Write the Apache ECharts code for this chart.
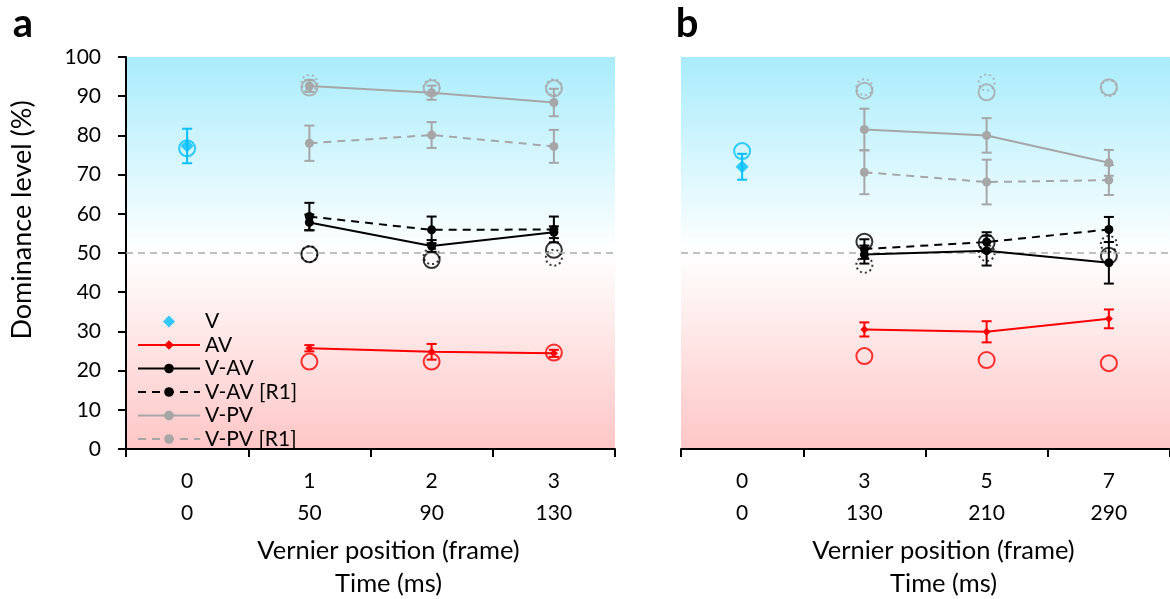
<!DOCTYPE html>
<html><head><meta charset="utf-8">
<script src="https://cdn.jsdelivr.net/npm/echarts@6/dist/echarts.min.js"></script>
<style>html,body{margin:0;padding:0;background:#fff}#c{width:1170px;height:599px}</style>
</head><body><div id="c"></div><script>
// ---------- categories / tick labels ----------
const framesA = ['0','1','2','3'];
const timesA  = ['0','50','90','130'];
const framesB = ['0','3','5','7'];
const timesB  = ['0','130','210','290'];

// ---------- panel a ----------
const vA          = [77.3,'-','-','-'];
const vErrA       = [4.4,0,0,0];
const vPredA      = [76.7,'-','-','-'];
const avA         = ['-',25.7,24.8,24.4];
const avErrA      = [0,0.8,2.0,0.9];
const avPredA     = ['-',22.3,22.3,24.6];
const vavA        = ['-',57.8,51.8,55.3];
const vavErrA     = [0,2.0,1.5,1.5];
const vavR1A      = ['-',59.3,55.9,56.0];
const vavR1ErrA   = [0,3.5,3.4,3.3];
const vavPredA    = ['-',49.7,48.2,50.8];
const vavPredR1A  = ['-',49.7,49.2,48.8];
const vpvA        = ['-',92.6,90.9,88.4];
const vpvErrA     = [0,1.5,1.8,3.5];
const vpvR1A      = ['-',78.0,80.1,77.2];
const vpvR1ErrA   = [0,4.5,3.3,4.2];
const vpvPredA    = ['-',92.2,92.0,92.0];
const vpvPredR1A  = ['-',93.4,92.3,92.3];

// ---------- panel b ----------
const vB          = [72.0,'-','-','-'];
const vErrB       = [3.3,0,0,0];
const vPredB      = [76.0,'-','-','-'];
const avB         = ['-',30.5,29.9,33.2];
const avErrB      = [0,1.8,2.7,2.4];
const avPredB     = ['-',23.7,22.7,21.9];
const vavB        = ['-',49.6,50.6,47.5];
const vavErrB     = [0,2.3,3.8,5.3];
const vavR1B      = ['-',51.0,52.8,56.0];
const vavR1ErrB   = [0,2.5,2.5,3.2];
const vavPredB    = ['-',52.9,52.6,49.3];
const vavPredR1B  = ['-',47.0,50.0,52.3];
const vpvB        = ['-',81.5,80.0,73.0];
const vpvErrB     = [0,5.3,4.4,3.3];
const vpvR1B      = ['-',70.6,68.1,68.6];
const vpvR1ErrB   = [0,5.6,5.7,3.8];
const vpvPredB    = ['-',91.4,91.0,92.3];
const vpvPredR1B  = ['-',92.3,93.5,92.0];

const FONT = 'Lato';
const COL = {V:'#00bfff', AV:'#ff0000', VAV:'#000000', VPV:'#a6a6a6'};

function pairs(vals){ const out=[]; vals.forEach((v,i)=>{ if(v!=='-') out.push([i,v]); }); return out; }

function meanLine(name, g, vals, color, dashed, symbol, size){
  return {name, type:'line', xAxisIndex:g, yAxisIndex:g, data:vals, symbol, symbolSize:size,
    itemStyle:{color}, lineStyle:{color, width:2, type: dashed ? [8,6] : 'solid'},
    z:6, animation:false, silent:true};
}
function errBars(g, vals, errs, color){
  const data=[];
  vals.forEach((v,i)=>{ if(v!=='-') data.push([i, v-errs[i], v+errs[i]]); });
  return {type:'custom', xAxisIndex:g, yAxisIndex:g, data, encode:{x:0,y:[1,2]}, z:5, silent:true, animation:false,
    renderItem(params, api){
      const i=api.value(0);
      const p1=api.coord([i, api.value(1)]), p2=api.coord([i, api.value(2)]);
      const w=5, st={stroke:color, lineWidth:2};
      return {type:'group', children:[
        {type:'line', shape:{x1:p1[0],y1:p1[1],x2:p2[0],y2:p2[1]}, style:st},
        {type:'line', shape:{x1:p1[0]-w,y1:p1[1],x2:p1[0]+w,y2:p1[1]}, style:st},
        {type:'line', shape:{x1:p2[0]-w,y1:p2[1],x2:p2[0]+w,y2:p2[1]}, style:st}
      ]};
    }};
}
function ring(g, vals, color, dotted){
  return {type:'scatter', xAxisIndex:g, yAxisIndex:g, data:pairs(vals), symbol:'circle', symbolSize:16,
    itemStyle:{color:'rgba(0,0,0,0)', borderColor:color, borderWidth:2, borderType: dotted ? [2,3] : 'solid'},
    z:4, silent:true, animation:false};
}
function vPoint(g, vals, size){
  return {name:'V', type:'scatter', xAxisIndex:g, yAxisIndex:g, data:pairs(vals), symbol:'diamond',
    symbolSize:size, itemStyle:{color:COL.V}, z:6, silent:true, animation:false};
}
function refLine(g){
  return {type:'line', xAxisIndex:g, yAxisIndex:g, data:[], silent:true, animation:false,
    markLine:{silent:true, symbol:'none', label:{show:false}, animation:false,
      lineStyle:{color:'#aaaaaa', type:[7,5], width:1.5}, data:[{yAxis:50}]}};
}

function panelSeries(g, d){
  return [
    refLine(g),
    ring(g, d.vPred, COL.V, false),
    ring(g, d.avPred, COL.AV, false),
    ring(g, d.vavPred, COL.VAV, false),
    ring(g, d.vavPredR1, COL.VAV, true),
    ring(g, d.vpvPred, COL.VPV, false),
    ring(g, d.vpvPredR1, COL.VPV, true),
    errBars(g, d.v, d.vErr, COL.V),
    errBars(g, d.av, d.avErr, COL.AV),
    errBars(g, d.vav, d.vavErr, COL.VAV),
    errBars(g, d.vavR1, d.vavR1Err, COL.VAV),
    errBars(g, d.vpv, d.vpvErr, COL.VPV),
    errBars(g, d.vpvR1, d.vpvR1Err, COL.VPV),
    vPoint(g, d.v, 13),
    meanLine('AV', g, d.av, COL.AV, false, 'diamond', 8),
    meanLine('V-AV', g, d.vav, COL.VAV, false, 'circle', 9),
    meanLine('V-AV [R1]', g, d.vavR1, COL.VAV, true, 'circle', 9),
    meanLine('V-PV', g, d.vpv, COL.VPV, false, 'circle', 9),
    meanLine('V-PV [R1]', g, d.vpvR1, COL.VPV, true, 'circle', 9)
  ];
}

const dataA = {v:vA, vErr:vErrA, vPred:vPredA, av:avA, avErr:avErrA, avPred:avPredA,
  vav:vavA, vavErr:vavErrA, vavR1:vavR1A, vavR1Err:vavR1ErrA, vavPred:vavPredA, vavPredR1:vavPredR1A,
  vpv:vpvA, vpvErr:vpvErrA, vpvR1:vpvR1A, vpvR1Err:vpvR1ErrA, vpvPred:vpvPredA, vpvPredR1:vpvPredR1A};
const dataB = {v:vB, vErr:vErrB, vPred:vPredB, av:avB, avErr:avErrB, avPred:avPredB,
  vav:vavB, vavErr:vavErrB, vavR1:vavR1B, vavR1Err:vavR1ErrB, vavPred:vavPredB, vavPredR1:vavPredR1B,
  vpv:vpvB, vpvErr:vpvErrB, vpvR1:vpvR1B, vpvR1Err:vpvR1ErrB, vpvPred:vpvPredB, vpvPredR1:vpvPredR1B};

function bg(){
  return new echarts.graphic.LinearGradient(0,0,0,1,[
    {offset:0, color:'#a9ecfc'},
    {offset:0.5, color:'#ffffff'},
    {offset:1, color:'#ffc6c6'}
  ]);
}
function xAxis(g, frames, times){
  return {type:'category', gridIndex:g, data:frames, boundaryGap:true,
    axisLine:{show:true, lineStyle:{color:'#000', width:2}},
    axisTick:{show:true, length:8, lineStyle:{color:'#000', width:2}},
    axisLabel:{color:'#000', fontFamily:FONT, fontSize:21, lineHeight:32, margin:16,
      formatter:(val, idx)=> val + '\n' + times[idx]},
    name:'Vernier position (frame)\nTime (ms)', nameLocation:'middle', nameGap:85,
    nameTextStyle:{color:'#000', fontFamily:FONT, fontSize:25.5, lineHeight:33, padding:[0,0,0,36]}};
}

const chart = echarts.init(document.getElementById('c'));
chart.setOption({
  animation:false,
  backgroundColor:'#ffffff',
  textStyle:{fontFamily:FONT},
  grid:[
    {left:126, top:57, width:489, height:392, show:true, borderWidth:0, backgroundColor:bg(),
      containLabel:false, outerBoundsMode:'none'},
    {left:681, top:57, width:489, height:392, show:true, borderWidth:0, backgroundColor:bg(),
      containLabel:false, outerBoundsMode:'none'}
  ],
  xAxis:[xAxis(0, framesA, timesA), xAxis(1, framesB, timesB)],
  yAxis:[
    {type:'value', gridIndex:0, min:0, max:100, interval:10,
      axisLine:{show:true, lineStyle:{color:'#000', width:2}},
      axisTick:{show:true, length:8, lineStyle:{color:'#000', width:2}},
      splitLine:{show:false},
      axisLabel:{color:'#000', fontFamily:FONT, fontSize:21, margin:25}},
    {type:'value', gridIndex:1, min:0, max:100, interval:10, show:false, splitLine:{show:false}}
  ],
  legend:{
    data:[{name:'V', icon:'path://M5,0L10,5L5,10L0,5Z'},'AV','V-AV','V-AV [R1]','V-PV','V-PV [R1]'],
    orient:'vertical', left:137, top:311, padding:0, itemGap:2.5,
    itemWidth:62, itemHeight:12, selectedMode:false, symbolKeepAspect:true,
    textStyle:{color:'#000', fontFamily:FONT, fontSize:21, lineHeight:20}
  },
  graphic:[
    {type:'text', x:23, y:24, style:{text:'a', font:'bold 40px Lato', fill:'#000', align:'center', verticalAlign:'middle'}},
    {type:'text', x:687, y:24, style:{text:'b', font:'bold 40px Lato', fill:'#000', align:'center', verticalAlign:'middle'}},
    {type:'text', x:22, y:220, rotation:Math.PI/2,
      style:{text:'Dominance level (%)', font:'27px Lato', fill:'#000', align:'center', verticalAlign:'middle'}}
  ],
  series:[].concat(panelSeries(0, dataA), panelSeries(1, dataB))
});
</script></body></html>
